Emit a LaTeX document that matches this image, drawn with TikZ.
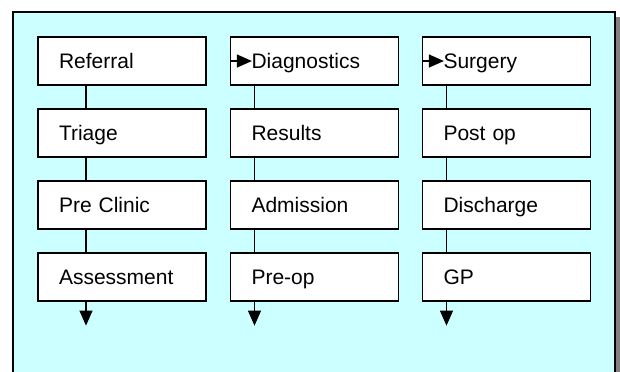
\documentclass[tikz,border=0pt]{standalone}
\usepackage{fontspec}
\setmainfont{Liberation Sans}
\usetikzlibrary{arrows.meta,positioning}

\definecolor{panelcyan}{RGB}{204,255,255}
\definecolor{shadowgray}{RGB}{128,128,128}

\tikzset{
  stage/.style={draw=black, fill=white, line width=0.6pt,
    minimum width=84pt, minimum height=24pt, inner xsep=10.5pt,
    text width=63pt, text height=7.6pt, text depth=0pt, align=left,
    font=\fontsize{10.5}{12}\selectfont},
  link/.style={line width=0.6pt},
  flow/.style={line width=0.6pt, -{Triangle[length=7.5pt,width=6.5pt]}}
}

\begin{document}
\begin{tikzpicture}[x=0.5pt,y=-0.5pt]
    \clip (0,0) rectangle (620,371);
    % panel with shadow
    \fill[shadowgray] (18,17) rectangle (620,400);
    \filldraw[fill=panelcyan,draw=black,line width=0.75pt] (13,12) rectangle (615,400);

    % first column
    \node[stage] (referral)   at (122,61)  {Referral};
    \node[stage] (triage)     at (122,133) {Triage};
    \node[stage] (preclinic)  at (122,205) {Pre Clinic};
    \node[stage] (assessment) at (122,277) {Assessment};
    % second column
    \node[stage] (diagnostics) at (314.5,61)  {Diagnostics};
    \node[stage] (results)     at (314.5,133) {Results};
    \node[stage] (admission)   at (314.5,205) {Admission};
    \node[stage] (preop)       at (314.5,277) {Pre-op};
    % third column
    \node[stage] (surgery)   at (506.5,61)  {Surgery};
    \node[stage] (postop)    at (506.5,133) {Post op};
    \node[stage] (discharge) at (506.5,205) {Discharge};
    \node[stage] (gp)        at (506.5,277) {GP};

    % vertical links
    \draw[link] ([xshift=-18pt]referral.south)  -- ([xshift=-18pt]triage.north);
    \draw[link] ([xshift=-18pt]triage.south)    -- ([xshift=-18pt]preclinic.north);
    \draw[link] ([xshift=-18pt]preclinic.south) -- ([xshift=-18pt]assessment.north);
    \foreach \a/\b in {diagnostics/results,results/admission,admission/preop,
                       surgery/postop,postop/discharge,discharge/gp}
      \draw[link] ([xshift=-30pt]\a.south) -- ([xshift=-30pt]\b.north);

    % exits at the bottom
    \coordinate (assessment out) at ([xshift=-18pt,yshift=-12pt]assessment.south);
    \coordinate (preop out)      at ([xshift=-30pt,yshift=-12pt]preop.south);
    \coordinate (gp out)         at ([xshift=-30pt,yshift=-12pt]gp.south);
    \draw[flow] ([xshift=-18pt]assessment.south) -- (assessment out);
    \draw[flow] ([xshift=-30pt]preop.south) -- (preop out);
    \draw[flow] ([xshift=-30pt]gp.south) -- (gp out);

    % entries on the left
    \coordinate (diagnostics in) at ([xshift=11pt]diagnostics.west);
    \coordinate (surgery in)     at ([xshift=11pt]surgery.west);
    \draw[flow] (diagnostics.west) -- (diagnostics in);
    \draw[flow] (surgery.west) -- (surgery in);
\end{tikzpicture}
\end{document}
